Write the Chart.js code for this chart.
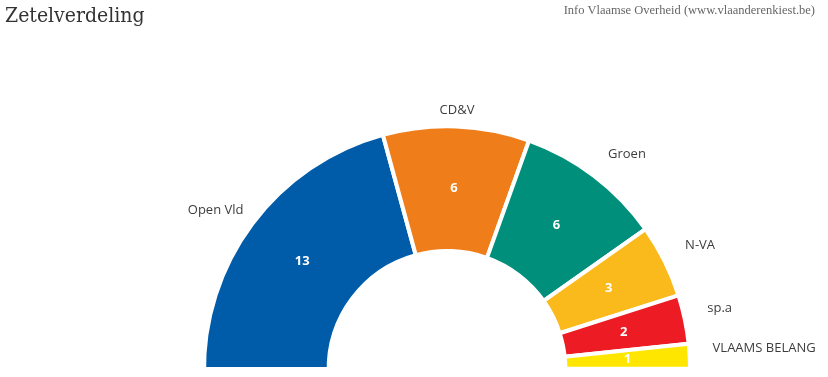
<!DOCTYPE html>
<html><head><meta charset="utf-8">
<script src="https://cdn.jsdelivr.net/npm/chart.js@4.4.1/dist/chart.umd.min.js"></script>
<style>
html,body{margin:0;padding:0;background:#fff;}
#wrap{position:relative;width:828px;height:377px;overflow:hidden;background:#fff;}
#clip{position:absolute;left:0;top:0;width:828px;height:367px;overflow:hidden;}
#chartBox{position:absolute;left:0;top:0;width:828px;height:400px;}
#title{position:absolute;left:5px;top:3px;font-family:"DejaVu Serif Condensed","DejaVu Serif",serif;font-size:21px;color:#333;white-space:nowrap;}
#credit{position:absolute;right:13px;top:3px;font-family:"Liberation Serif",serif;font-size:12.5px;color:#666;white-space:nowrap;}
</style></head><body>
<div id="wrap">
<div id="clip"><div id="chartBox"><canvas id="c"></canvas></div></div>
<div id="title">Zetelverdeling</div>
<div id="credit">Info Vlaamse Overheid (www.vlaanderenkiest.be)</div>
</div>
<script>
const parties = ['Open Vld', 'CD&V', 'Groen', 'N-VA', 'sp.a', 'VLAAMS BELANG'];
const seats = [13, 6, 6, 3, 2, 1];
const colors = ['#005CA8', '#EF7D1A', '#008F7B', '#FBBA1C', '#ED1C24', '#FFE600'];

const labelPlugin = {
  id: 'seatLabels',
  afterDatasetsDraw(chart) {
    const ctx = chart.ctx;
    const meta = chart.getDatasetMeta(0);
    ctx.save();
    meta.data.forEach((arc, i) => {
      const p = arc.getProps(['x', 'y', 'startAngle', 'endAngle', 'innerRadius', 'outerRadius'], true);
      const mid = (p.startAngle + p.endAngle) / 2;
      const cos = Math.cos(mid), sin = Math.sin(mid);
      const rIn = (p.innerRadius + p.outerRadius) / 2;
      ctx.font = 'bold 13px "Open Sans"';
      ctx.fillStyle = '#ffffff';
      ctx.textAlign = 'center';
      ctx.textBaseline = 'middle';
      ctx.fillText(String(seats[i]), p.x + rIn * cos, p.y + rIn * sin);
      let r = p.outerRadius + 23;
      let align = cos > 0 ? 'left' : 'right';
      let lx, ly;
      if (Math.abs(cos) < 0.15) {
        align = 'center';
        r = p.outerRadius + 16;
        lx = p.x + r * cos; ly = p.y + r * sin;
      } else if (cos < 0) {
        lx = p.x + (p.outerRadius + 11) * cos; ly = p.y + r * sin;
      } else {
        lx = p.x + r * cos; ly = p.y + r * sin - 6 * cos;
      }
      ctx.font = '13px "Open Sans"';
      ctx.fillStyle = '#3d3d3d';
      ctx.textAlign = align;
      ctx.fillText(parties[i], lx, ly);
    });
    ctx.restore();
  }
};

new Chart(document.getElementById('c'), {
  type: 'doughnut',
  data: {
    labels: parties,
    datasets: [{
      data: seats,
      backgroundColor: colors,
      borderColor: '#ffffff',
      borderWidth: 4,
      hoverOffset: 0
    }]
  },
  options: {
    responsive: true,
    maintainAspectRatio: false,
    animation: false,
    rotation: -91.2,
    circumference: 181,
    cutout: '48.7%',
    layout: { padding: { left: 202, right: 136, top: 120.3, bottom: 19.7 } },
    plugins: { legend: { display: false }, tooltip: { enabled: false }, title: { display: false } }
  },
  plugins: [labelPlugin]
});
</script>
</body></html>
